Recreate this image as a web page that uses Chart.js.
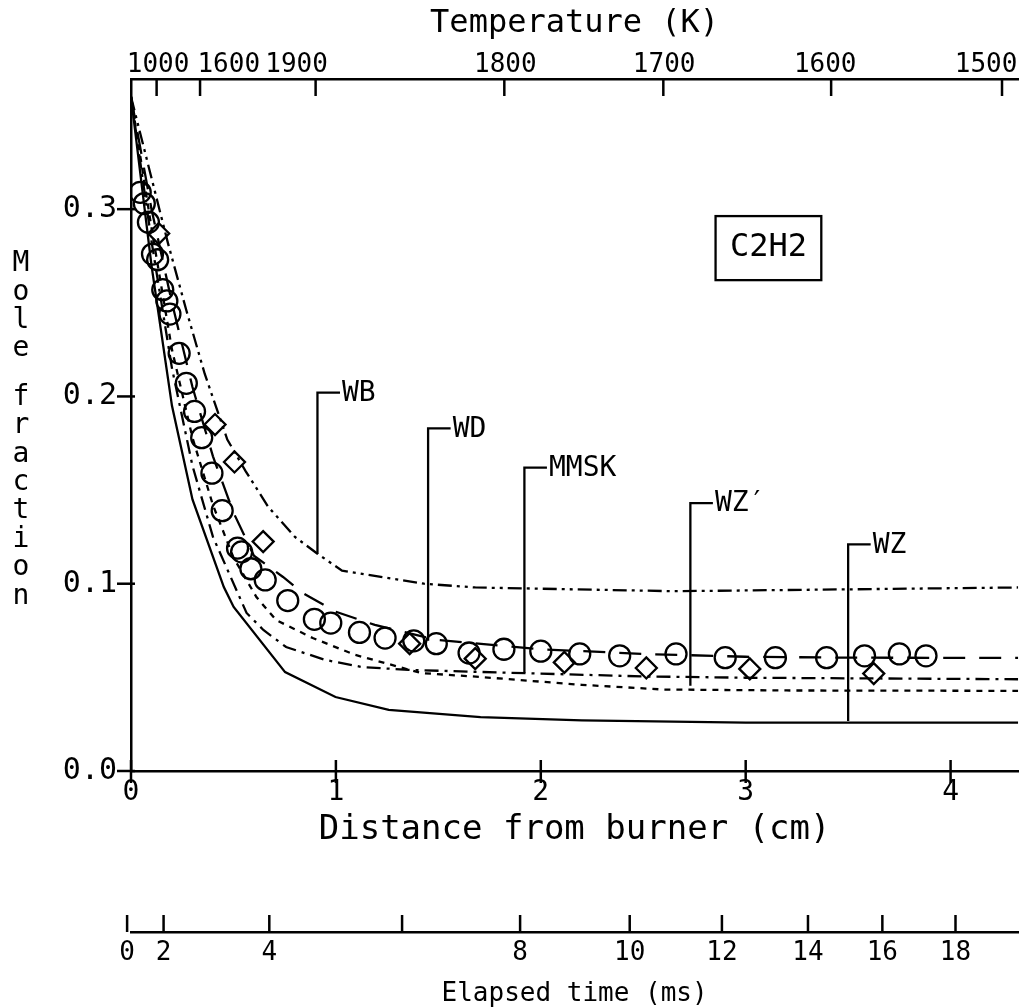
<!DOCTYPE html>
<html>
<head>
<meta charset="utf-8">
<script src="https://cdn.jsdelivr.net/npm/chart.js@4.4.1/dist/chart.umd.min.js"></script>
<style>
html,body{margin:0;padding:0;background:#fff;}
#wrap{width:1031px;height:1007px;position:relative;}
</style>
</head>
<body>
<div id="wrap"><canvas id="c"></canvas></div>
<script>
const FONT = "'DejaVu Sans Mono', 'Liberation Mono', monospace";

// ---- axes ----
const distTicks = [0, 1, 2, 3, 4];
const distLabels = ['0', '1', '2', '3', '4'];
const yTicks = [0, 0.1, 0.2, 0.3];
const yLabels = ['0.0', '0.1', '0.2', '0.3'];
const tempLabels = ['1000', '1600', '1900', '1800', '1700', '1600', '1500'];
const tempLabelAt = [0.132, 0.477, 0.808, 1.827, 2.602, 3.388, 4.173];
const tempTickAt = [0.125, 0.337, 0.901, 1.822, 2.598, 3.417, 4.251];
const timeLabels = ['0', '2', '4', '', '8', '10', '12', '14', '16', '18'];
const timeTickAt = [-0.019, 0.159, 0.675, 1.323, 1.899, 2.434, 2.884, 3.304, 3.667, 4.024];

// ---- measured data ----
const circX = [0.045,0.065,0.085,0.105,0.13,0.155,0.175,0.19,0.235,0.27,0.31,0.345,0.395,0.445,0.52,0.54,0.585,0.655,0.765,0.895,0.975,1.115,1.24,1.38,1.49,1.65,1.82,2.0,2.19,2.385,2.66,2.9,3.145,3.395,3.58,3.75,3.88];
const circY = [0.309,0.303,0.293,0.276,0.273,0.257,0.251,0.244,0.223,0.207,0.192,0.178,0.159,0.139,0.119,0.117,0.108,0.102,0.091,0.081,0.079,0.074,0.071,0.0695,0.068,0.063,0.065,0.064,0.0625,0.0615,0.0625,0.0605,0.0605,0.0605,0.0615,0.0625,0.0615];
const diaX = [0.135,0.41,0.505,0.645,1.36,1.68,2.115,2.515,3.02,3.625];
const diaY = [0.287,0.185,0.165,0.1225,0.068,0.060,0.058,0.055,0.0545,0.052];

// ---- model curves ----
const wbX = [0,0.18,0.27,0.36,0.47,0.56,0.67,0.8,0.91,1.03,1.43,1.68,2.65,3.5,4.33];
const wbY = [0.36,0.282,0.246,0.212,0.177,0.16,0.141,0.125,0.116,0.107,0.100,0.098,0.096,0.097,0.098];
const wdX = [0,0.1,0.2,0.3,0.4,0.5,0.6,0.742,0.839,1.0,1.19,1.49,2.0,2.5,3.0,3.5,4.33];
const wdY = [0.36,0.3,0.25,0.205,0.168,0.138,0.115,0.1036,0.095,0.085,0.078,0.070,0.065,0.0625,0.061,0.0605,0.0604];
const mmskX = [0,0.1,0.2,0.3,0.4,0.564,0.646,0.757,0.949,1.128,1.354,1.706,2.0,2.5,3.0,4.33];
const mmskY = [0.36,0.283,0.215,0.163,0.125,0.0844,0.0753,0.0662,0.0593,0.0555,0.054,0.0529,0.052,0.0505,0.0498,0.049];
const wzpX = [0,0.1,0.2,0.3,0.4,0.5,0.612,0.708,0.887,1.094,1.417,1.706,2.2,2.6,3.2,4.33];
const wzpY = [0.36,0.29,0.225,0.178,0.142,0.114,0.0929,0.0806,0.071,0.062,0.0523,0.0502,0.046,0.0435,0.043,0.0428];
const wzX = [0,0.1,0.2,0.3,0.453,0.501,0.752,0.998,1.258,1.706,2.2,3.0,4.33];
const wzY = [0.36,0.27,0.195,0.145,0.0982,0.0876,0.0528,0.0395,0.0326,0.0288,0.027,0.0258,0.0258];

// ---- curve labels (leader lines) ----
const annotNames = ['WB', 'WD', 'MMSK', 'WZ\u2032', 'WZ'];
const annotX = [0.91, 1.45, 1.92, 2.73, 3.50];
const annotLabelY = [0.202, 0.183, 0.162, 0.143, 0.121];
const annotEndY = [0.116, 0.0695, 0.0524, 0.0455, 0.0267];
const annotArm = 0.11;

const pts = (xs, ys) => xs.map((v, i) => ({x: v, y: ys[i]}));

const curve = (xs, ys, dash) => ({
  data: pts(xs, ys), showLine: true, borderColor: '#000', borderWidth: 2.3,
  borderDash: dash, pointRadius: 0, tension: 0, fill: false
});

const datasets = [
  curve(wbX, wbY, [14, 5, 3, 5, 3, 5]),
  curve(wdX, wdY, [22, 14]),
  curve(mmskX, mmskY, [14, 6, 3, 6]),
  curve(wzpX, wzpY, [6, 6]),
  curve(wzX, wzY, []),
  {data: pts(circX, circY), pointStyle: 'circle', pointRadius: 10.5, borderColor: '#000',
   backgroundColor: 'rgba(0,0,0,0)', borderWidth: 2.3, showLine: false},
  {data: pts(diaX, diaY), pointStyle: 'rectRot', pointRadius: 10.5, borderColor: '#000',
   backgroundColor: 'rgba(0,0,0,0)', borderWidth: 2.3, showLine: false}
];
annotNames.forEach((n, i) => {
  datasets.push({
    data: [{x: annotX[i], y: annotEndY[i]}, {x: annotX[i], y: annotLabelY[i]}, {x: annotX[i] + annotArm, y: annotLabelY[i]}],
    showLine: true, borderColor: '#000', borderWidth: 2.3, pointRadius: 0, tension: 0
  });
});

const fixPad = s => { s.paddingLeft = 0; s.paddingRight = 0; s.paddingTop = 0; s.paddingBottom = 0; };

const decor = {
  id: 'decor',
  afterDraw(chart) {
    const {ctx} = chart;
    const {x, y, x2, x3} = chart.scales;
    ctx.save();
    ctx.strokeStyle = '#000';
    ctx.fillStyle = '#000';
    ctx.lineWidth = 2.5;
    const ln = (a, b, c, d) => { ctx.beginPath(); ctx.moveTo(a, b); ctx.lineTo(c, d); ctx.stroke(); };
    yTicks.forEach(v => { const p = y.getPixelForValue(v); ln(y.right - 14, p, y.right + 4, p); });
    distTicks.forEach(v => { const p = x.getPixelForValue(v); ln(p, x.top - 11, p, x.top + 12); });
    tempTickAt.forEach(v => { const p = x2.getPixelForValue(v); ln(p, x2.bottom, p, x2.bottom + 17); });
    timeTickAt.forEach(v => { const p = x3.getPixelForValue(v); ln(p, x3.top - 17, p, x3.top); });

    // curve labels
    ctx.font = '28px ' + FONT;
    ctx.textAlign = 'left';
    ctx.textBaseline = 'middle';
    annotNames.forEach((n, i) => {
      ctx.fillText(n, x.getPixelForValue(annotX[i] + annotArm) + 2, y.getPixelForValue(annotLabelY[i]) + 1);
    });

    // species box
    const bx0 = x.getPixelForValue(2.853), bx1 = x.getPixelForValue(3.369);
    const by0 = y.getPixelForValue(0.2963), by1 = y.getPixelForValue(0.2621);
    ctx.lineWidth = 2.3;
    ctx.strokeRect(bx0, by0, bx1 - bx0, by1 - by0);
    ctx.font = '32px ' + FONT;
    ctx.textAlign = 'center';
    ctx.fillText('C2H2', (bx0 + bx1) / 2, (by0 + by1) / 2);

    // y-axis title, letters stacked upright
    ctx.font = '28px ' + FONT;
    const title = 'Mole fraction';
    let yy = 264;
    for (const ch of title) {
      if (ch === ' ') { yy += 20; continue; }
      ctx.fillText(ch, 21, yy);
      yy += 28.4;
    }
    ctx.restore();
  }
};

new Chart(document.getElementById('c'), {
  type: 'scatter',
  data: {datasets},
  plugins: [decor],
  options: {
    responsive: true,
    maintainAspectRatio: false,
    animation: false,
    events: [],
    layout: {padding: {left: 0, right: 3, top: 0, bottom: 0}},
    plugins: {legend: {display: false}, tooltip: {enabled: false}},
    scales: {
      x: {
        type: 'linear', position: 'bottom', min: 0, max: 4.33,
        afterBuildTicks: s => { s.ticks = distTicks.map(v => ({value: v})); },
        afterFit: s => { s.height = 161; fixPad(s); },
        ticks: {autoSkip: false, maxRotation: 0, padding: 8, color: '#000',
                font: {family: FONT, size: 28, lineHeight: 1},
                callback: (v, i) => distLabels[i]},
        grid: {display: true, drawOnChartArea: false, drawTicks: false},
        border: {display: true, color: '#000', width: 2.5},
        title: {display: true, text: 'Distance from burner (cm)', color: '#000',
                font: {family: FONT, size: 34, lineHeight: 1.2}, padding: {top: 0, bottom: 81}}
      },
      x3: {
        type: 'linear', position: 'bottom', min: 0, max: 4.33,
        afterBuildTicks: s => { s.ticks = timeTickAt.map(v => ({value: v})); },
        afterFit: s => { s.height = 75; fixPad(s); },
        ticks: {autoSkip: false, maxRotation: 0, padding: 8, color: '#000',
                font: {family: FONT, size: 26, lineHeight: 1},
                callback: (v, i) => timeLabels[i]},
        grid: {display: true, drawOnChartArea: false, drawTicks: false},
        border: {display: true, color: '#000', width: 2.5},
        title: {display: true, text: 'Elapsed time (ms)', color: '#000',
                font: {family: FONT, size: 26, lineHeight: 1}, padding: {top: 0, bottom: 0}}
      },
      x2: {
        type: 'linear', position: 'top', min: 0, max: 4.33,
        afterBuildTicks: s => { s.ticks = tempLabelAt.map(v => ({value: v})); },
        afterFit: s => { s.height = 79; fixPad(s); },
        ticks: {autoSkip: false, maxRotation: 0, padding: 1, color: '#000',
                font: {family: FONT, size: 26, lineHeight: 1},
                callback: (v, i) => tempLabels[i]},
        grid: {display: true, drawOnChartArea: false, drawTicks: false},
        border: {display: true, color: '#000', width: 2.5},
        title: {display: true, text: 'Temperature (K)', color: '#000',
                font: {family: FONT, size: 32, lineHeight: 1.2}, padding: {top: 4, bottom: 0}}
      },
      y: {
        type: 'linear', position: 'left', min: 0, max: 0.3695,
        afterBuildTicks: s => { s.ticks = yTicks.map(v => ({value: v})); },
        afterFit: s => { s.width = 131; fixPad(s); },
        ticks: {autoSkip: false, padding: 14, color: '#000',
                font: {family: FONT, size: 30, lineHeight: 1},
                callback: (v, i) => yLabels[i]},
        grid: {display: true, drawOnChartArea: false, drawTicks: false},
        border: {display: true, color: '#000', width: 2.5}
      }
    }
  }
});
</script>
</body>
</html>
